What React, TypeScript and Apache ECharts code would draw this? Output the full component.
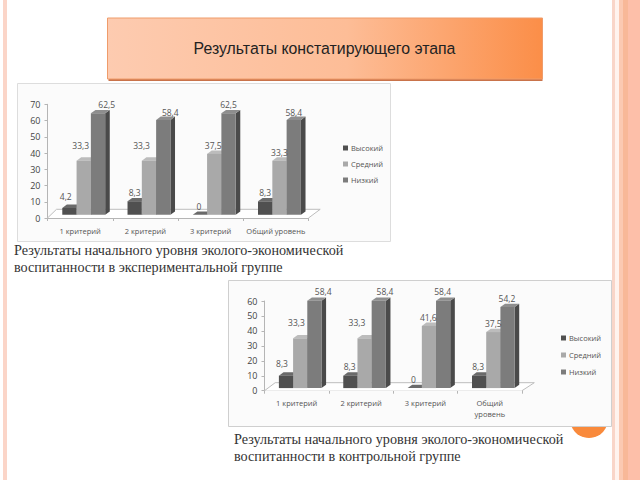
import React, { useEffect, useRef } from "react";
import * as echarts from "echarts";

const seriesNames = ["Высокий", "Средний", "Низкий"];
const categoriesA = ["1 критерий", "2 критерий", "3 критерий", "Общий уровень"];
const categoriesB = ["1 критерий", "2 критерий", "3 критерий", "Общий\nуровень"];
const highA = [4.2, 8.3, 0, 8.3];
const midA = [33.3, 33.3, 37.5, 33.3];
const lowA = [62.5, 58.4, 62.5, 58.4];
const highB = [8.3, 8.3, 0, 8.3];
const midB = [33.3, 33.3, 41.6, 37.5];
const lowB = [58.4, 58.4, 58.4, 54.2];
const titleText = "Результаты констатирующего этапа";
const captionA = ["Результаты начального уровня эколого-экономической", "воспитанности в экспериментальной группе"];
const captionB = ["Результаты начального уровня эколого-экономической", "воспитанности в контрольной группе"];

// Hand-placed label offsets [dx, dy] from the top centre of each bar, per series then category
const shiftA = [
  [[-3.7, -4], [0, -1], [-1, 0], [0, -1]],
  [[-3, -7], [-7.4, -7.6], [-1, 0], [0, -0.5]],
  [[8.7, -1], [7, 0], [0, -1], [0, 0]],
];
const shiftB = [
  [[-4, -4.3], [-0.7, -1], [-1.4, -1], [-1, -1]],
  [[-3.7, -7.6], [-7.6, -8.2], [-0.6, -1], [0, -1]],
  [[8.8, -1.5], [6.2, -1.5], [-0.5, -1.5], [-0.5, -1]],
];

const colors = ["#505050", "#a9a9a9", "#7c7c7c"];
const topColors = ["#6a6a6a", "#bcbcbc", "#8e8e8e"];
const sideColors = ["#333333", "#808080", "#4a4a4a"];

function barSeries(name: string, idx: number, values: number[], axis: number, shifts: number[][][], cfg: any) {
  return {
    type: "custom",
    name,
    xAxisIndex: axis,
    yAxisIndex: axis,
    itemStyle: { color: colors[idx] },
    data: values.map((v, i) => [i, v]),
    clip: false,
    z: 5,
    renderItem: (_p: any, api: any) => {
      const cat = api.value(0);
      const val = api.value(1);
      const top = api.coord([cat, val]);
      const base = api.coord([cat, 0]);
      const w = cfg.w;
      const x = top[0] + cfg.x0 + (idx - 1) * w - w / 2;
      const y0 = base[1] - cfg.lift;
      const y1 = top[1] - cfg.lift;
      const d = cfg.dx;
      const e = cfg.dy;
      const s = shifts[idx][cat];
      return {
        type: "group",
        children: [
          { type: "polygon", shape: { points: [[x + w, y1], [x + w + d, y1 - e], [x + w + d, y0 - e], [x + w, y0]] }, style: { fill: sideColors[idx] } },
          { type: "polygon", shape: { points: [[x, y1], [x + d, y1 - e], [x + w + d, y1 - e], [x + w, y1]] }, style: { fill: topColors[idx] } },
          { type: "rect", shape: { x, y: y1, width: w, height: y0 - y1 }, style: { fill: colors[idx] } },
          {
            type: "text",
            z2: 100,
            x: x + w / 2 + s[0],
            y: y1 - e + s[1],
            style: {
              text: String(val).replace(".", ","),
              fill: "#555555",
              font: "8.5px 'Open Sans', sans-serif",
              align: "center",
              verticalAlign: "bottom",
            },
          },
        ],
      };
    },
  };
}

function floorSeries(axis: number, n: number, cfg: any) {
  return {
    type: "custom",
    silent: true,
    xAxisIndex: axis,
    yAxisIndex: axis,
    data: [[0, 0]],
    z: 1,
    clip: false,
    renderItem: (_p: any, api: any) => {
      const band = api.size([1, 0])[0];
      const first = api.coord([0, 0]);
      const last = api.coord([n - 1, 0]);
      const ax = first[0] - band / 2;
      const bx = last[0] + band / 2;
      const y = first[1];
      return {
        type: "polyline",
        shape: { points: [[ax, y], [ax + cfg.fx, y - cfg.fy], [bx + cfg.fxr, y - cfg.fy], [bx, y]] },
        style: { stroke: "#bdbdbd", lineWidth: 1, fill: "#ffffff" },
      };
    },
  };
}

const axisText = { color: "#555555", fontSize: 7.5, fontFamily: "'Open Sans', sans-serif" };
const axisLine = { show: true, lineStyle: { color: "#b5b5b5" } };

function axisX(data: string[], gridIndex: number) {
  return {
    type: "category" as const,
    gridIndex,
    data,
    axisLine,
    axisTick: { show: true, lineStyle: { color: "#b5b5b5" }, length: 3, alignWithLabel: false },
    axisLabel: { ...axisText, interval: 0, margin: 7, lineHeight: 11 },
    splitLine: { show: false },
  };
}
function axisY(max: number, gridIndex: number) {
  return {
    type: "value" as const,
    gridIndex,
    min: 0,
    max,
    interval: 10,
    axisLine,
    axisTick: { show: true, lineStyle: { color: "#b5b5b5" }, length: 3 },
    axisLabel: { color: "#444444", fontSize: 9, margin: 7, fontFamily: "'Open Sans', sans-serif" },
    splitLine: { show: false },
  };
}

const cfgA = { w: 14.3, x0: 3.6, lift: 3.2, dx: 4.6, dy: 3.4, fx: 9, fxr: 11.7, fy: 8.7 };
const cfgB = { w: 14.2, x0: 3.5, lift: 2.6, dx: 4.6, dy: 3.4, fx: 10.7, fxr: 12.3, fy: 8 };

function legendAt(left: number, top: number, itemGap: number) {
  return {
    left,
    top,
    orient: "vertical" as const,
    data: seriesNames,
    icon: "rect",
    itemWidth: 5,
    itemHeight: 5,
    itemGap,
    selectedMode: false,
    textStyle: { color: "#555555", fontSize: 7.5, fontFamily: "'Open Sans', sans-serif", padding: [0, 0, 0, -2] },
    padding: 0,
  };
}

function captionText(lines: string[], x: number, y: number) {
  return lines.map((text, i) => ({
    type: "text",
    x,
    y: y + i * 17,
    style: { text, fill: "#333333", font: "14.2px 'Liberation Serif', serif", verticalAlign: "middle" },
    z: 10,
  }));
}

function stripes(x: number, w: number, fill: string) {
  return { type: "rect", shape: { x, y: 0, width: w, height: 480 }, style: { fill }, z: 0 };
}

export default function App() {
  const ref = useRef<HTMLDivElement>(null);
  useEffect(() => {
    const chart = echarts.init(ref.current!, undefined, { renderer: "svg" });
    chart.setOption({
      animation: false,
      backgroundColor: "#ffffff",
      legend: [legendAt(343, 144, 8), legendAt(561, 334, 9)],
      grid: [
        { left: 47.5, top: 104.3, width: 261, height: 113.7 },
        { left: 264.5, top: 301, width: 257.5, height: 89.7 },
      ],
      xAxis: [axisX(categoriesA, 0), axisX(categoriesB, 1)],
      yAxis: [axisY(70, 0), axisY(60, 1)],
      series: [
        floorSeries(0, categoriesA.length, cfgA),
        barSeries(seriesNames[0], 0, highA, 0, shiftA, cfgA),
        barSeries(seriesNames[1], 1, midA, 0, shiftA, cfgA),
        barSeries(seriesNames[2], 2, lowA, 0, shiftA, cfgA),
        floorSeries(1, categoriesB.length, cfgB),
        barSeries(seriesNames[0], 0, highB, 1, shiftB, cfgB),
        barSeries(seriesNames[1], 1, midB, 1, shiftB, cfgB),
        barSeries(seriesNames[2], 2, lowB, 1, shiftB, cfgB),
      ],
      graphic: [
        { type: "group", silent: true, z: -10, children: [
          stripes(3, 4, "#fbd5c8"),
          stripes(612, 3, "#f9d5c8"),
          stripes(615, 4, "#fff3ee"),
          stripes(619, 4, "#fbc9b2"),
          stripes(623, 5, "#f8b898"),
          stripes(628, 12, "#fdbfa9"),
          { type: "circle", shape: { cx: 589, cy: 419, r: 19 }, style: { fill: "#f98a3c" } },
          { type: "rect", shape: { x: 108.5, y: 20, width: 434, height: 61 }, style: { fill: "#c9734a" } },
          {
            type: "rect",
            shape: { x: 107.5, y: 18, width: 435, height: 61 },
            style: {
              fill: new echarts.graphic.LinearGradient(0, 0, 1, 0, [
                { offset: 0, color: "#fdcbb0" },
                { offset: 0.55, color: "#fdbd97" },
                { offset: 1, color: "#fb8e48" },
              ]),
              stroke: "#ef9c6b",
              lineWidth: 1,
            },
          },
          { type: "rect", shape: { x: 17.5, y: 83.5, width: 373, height: 158 }, style: { fill: "#fbfbfb", stroke: "#dddddd", lineWidth: 1 } },
          { type: "rect", shape: { x: 228.5, y: 280.5, width: 383, height: 146 }, style: { fill: "#fbfbfb", stroke: "#cfcfcf", lineWidth: 1 } },
        ] },
        {
          type: "text",
          x: 324.5,
          y: 48,
          z: 10,
          style: { text: titleText, fill: "#222222", font: "15.85px 'Liberation Sans', Arial, sans-serif", align: "center", verticalAlign: "middle" },
        },
        ...captionText(captionA, 14, 250),
        ...captionText(captionB, 234, 439),
      ],
    });
    return () => chart.dispose();
  }, []);
  return <div ref={ref} style={{ width: 640, height: 480, position: "fixed", left: 0, top: 0 }} />;
}
